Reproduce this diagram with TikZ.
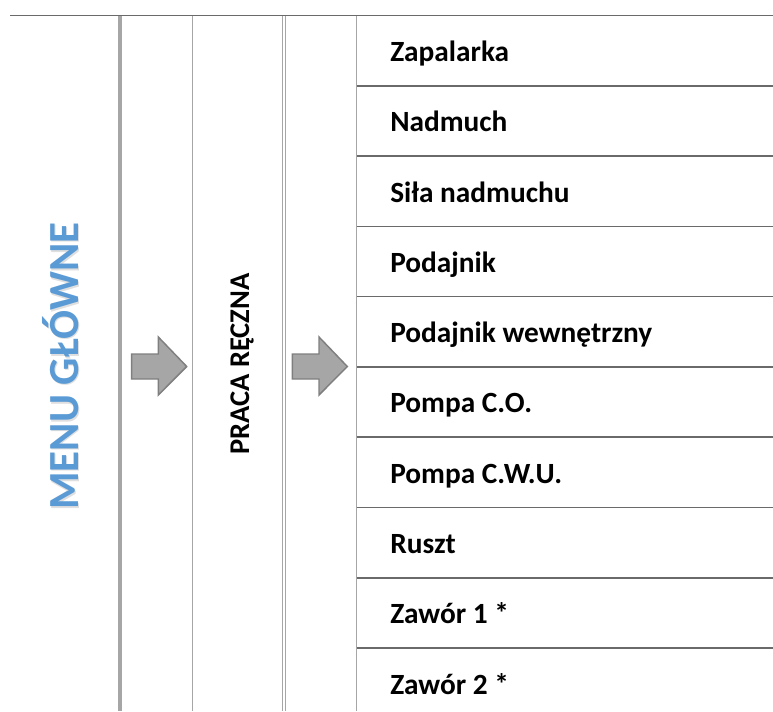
\documentclass[tikz,border=0pt]{standalone}
\usepackage{fontspec}
\setmainfont{Carlito}
\definecolor{rulegray}{HTML}{6A6A6A}
\definecolor{colgray}{HTML}{A6A6A6}
\definecolor{arrowfill}{HTML}{A6A6A6}
\definecolor{arrowedge}{HTML}{7F7F7F}
\definecolor{menublue}{HTML}{5B9BD5}
\begin{document}
\begin{tikzpicture}[x=0.75pt,y=-0.75pt,
  rowrule/.style={draw=rulegray, line width=1.2pt},
  colrule/.style={draw=colgray, line width=0.9pt},
  thickrule/.style={draw=colgray, line width=2.4pt},
  item/.style={anchor=base west, inner sep=0pt, font=\fontsize{22}{26}\selectfont\bfseries},
  title/.style={rotate=90, anchor=base, inner sep=0pt, font=\fontsize{32.2}{36}\selectfont\bfseries, text=menublue},
  subtitle/.style={rotate=90, anchor=base, inner sep=0pt, font=\fontsize{21.4}{25}\selectfont\bfseries},
  blockarrow/.style={fill=arrowfill, draw=arrowedge, line width=1.1pt, line join=miter}]
\useasboundingbox (0,0) rectangle (773,711);

% top rule
\draw[rowrule] (10,15.5) -- (773,15.5);

% column rules
\draw[thickrule] (120,15.5) -- (120,711);
\draw[colrule] (192.7,15.5) -- (192.7,711);
\draw[colrule] (282.7,15.5) -- (282.7,711);
\draw[colrule] (285.3,15.5) -- (285.3,711);
\draw[colrule, line width=1.1pt] (356.7,15.5) -- (356.7,711);

% row separators of the item list
\foreach \k in {1,...,9}
  \draw[rowrule] (356.7,{15.4+70.3*\k}) -- (773,{15.4+70.3*\k});

% item list
\foreach \t [count=\i] in {Zapalarka, Nadmuch, Siła nadmuchu, Podajnik,
    Podajnik wewnętrzny, Pompa C.O., Pompa C.W.U., Ruszt, Zawór 1 *, Zawór 2 *}
  \node[item] (item\i) at (390,{15.4+70.3*(\i-1)+46}) {\t};

% menu titles
\node[title, text=black!25, opacity=0.5] (menushadow) at (79.5,367.5) {MENU GŁÓWNE};
\node[title] (menu) at (78,366) {MENU GŁÓWNE};
\node[subtitle] (manual) at (249,364) {PRACA RĘCZNA};

% block arrows
\draw[blockarrow] (131.7,354) -- (158.3,354) -- (158.3,337) -- (186.7,366.5)
  -- (158.3,395) -- (158.3,379) -- (131.7,379) -- cycle;
\draw[blockarrow] (292.3,354) -- (319,354) -- (319,337) -- (347.3,366.5)
  -- (319,395) -- (319,379) -- (292.3,379) -- cycle;
\end{tikzpicture}
\end{document}
